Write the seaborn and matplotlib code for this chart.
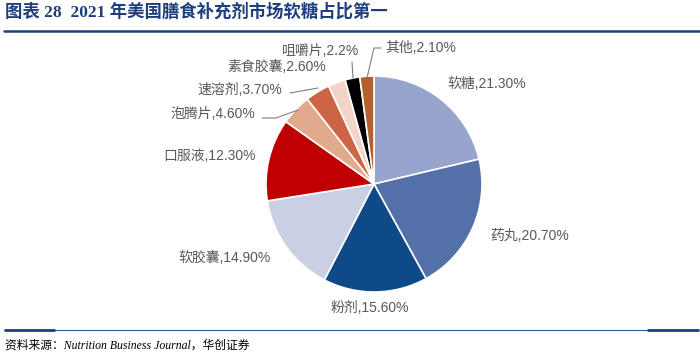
import matplotlib
matplotlib.use('Agg')
import matplotlib.pyplot as plt
import seaborn as sns
from matplotlib.lines import Line2D

# data
categories = ['软糖', '药丸', '粉剂', '软胶囊', '口服液', '泡腾片', '速溶剂', '素食胶囊', '咀嚼片', '其他']
shares = [21.3, 20.7, 15.6, 14.9, 12.3, 4.6, 3.7, 2.6, 2.2, 2.1]
share_text = ['21.30%', '20.70%', '15.60%', '14.90%', '12.30%', '4.60%', '3.70%', '2.60%', '2.2%', '2.10%']
colors = ['#97A5CC', '#5470A8', '#0E4A87', '#CACFE4', '#C00000',
          '#E1AA8C', '#CD6446', '#F2D4C8', '#000000', '#B4602D']

title = '图表 28  2021 年美国膳食补充剂市场软糖占比第一'
source = '资料来源：Nutrition Business Journal，华创证券'

sns.set_theme(style='white')
plt.rcParams['font.family'] = ['Liberation Sans', 'Noto Sans CJK SC']

W, H = 700, 357
CX, CY, R = 374, 184, 108


def px(x, y):
    # pixel position -> data coords (pie radius = 1)
    return (x - CX) / R, (CY - y) / R


fig = plt.figure(figsize=(W / 100, H / 100), dpi=100)
ax = fig.add_axes([0, 0, 1, 1])
ax.pie(shares, colors=colors, startangle=90, counterclock=False, radius=1,
       wedgeprops=dict(edgecolor='white', linewidth=1.2))
ax.set_xlim(-CX / R, (W - CX) / R)
ax.set_ylim(-(H - CY) / R, CY / R)
ax.set_aspect('auto')
ax.axis('off')

# label anchor (left x, center y) in pixels
label_pos = [(447, 84), (490, 236), (331, 308), (178, 258), (163, 156),
             (170, 114), (197, 90), (227, 67), (282, 51), (385, 48)]
for cat, txt, (lx, ly) in zip(categories, share_text, label_pos):
    ax.text(*px(lx, ly), f'{cat},{txt}', ha='left', va='center',
            fontsize=10, color='#595959')

# leader lines
leaders = [
    [(262, 118), (276, 118), (298, 110)],
    [(290, 93), (318, 88)],
    [(352, 62), (353, 78)],
    [(381, 48), (374, 48), (367, 78)],
]
for pts in leaders:
    xs, ys = zip(*[px(x, y) for x, y in pts])
    ax.plot(xs, ys, color='#7F7F7F', lw=0.8)

# title + frame lines
navy = '#1F3E7C'
fig.text(5 / W, 1 - 12 / H, title, ha='left', va='center', fontsize=12.5,
         fontweight='bold', color=navy,
         family=['Liberation Serif', 'Noto Sans CJK SC'])
fig.add_artist(Line2D([4 / W, 1], [1 - 31 / H] * 2, color=navy, lw=1.8))
fig.add_artist(Line2D([5 / W, 695 / W], [1 - 330 / H] * 2, color='#2E5A9A', lw=0.8))
fig.add_artist(Line2D([5 / W, 54 / W], [1 - 330 / H] * 2, color=navy, lw=2))
fig.add_artist(Line2D([648 / W, 698 / W], [1 - 330 / H] * 2, color=navy, lw=2))

fig.text(5 / W, 1 - 346 / H, source, ha='left', va='center', fontsize=8.5,
         style='italic', color='#000000',
         family=['Liberation Serif', 'Noto Sans CJK SC'])

fig.savefig('out.png', dpi=100)
